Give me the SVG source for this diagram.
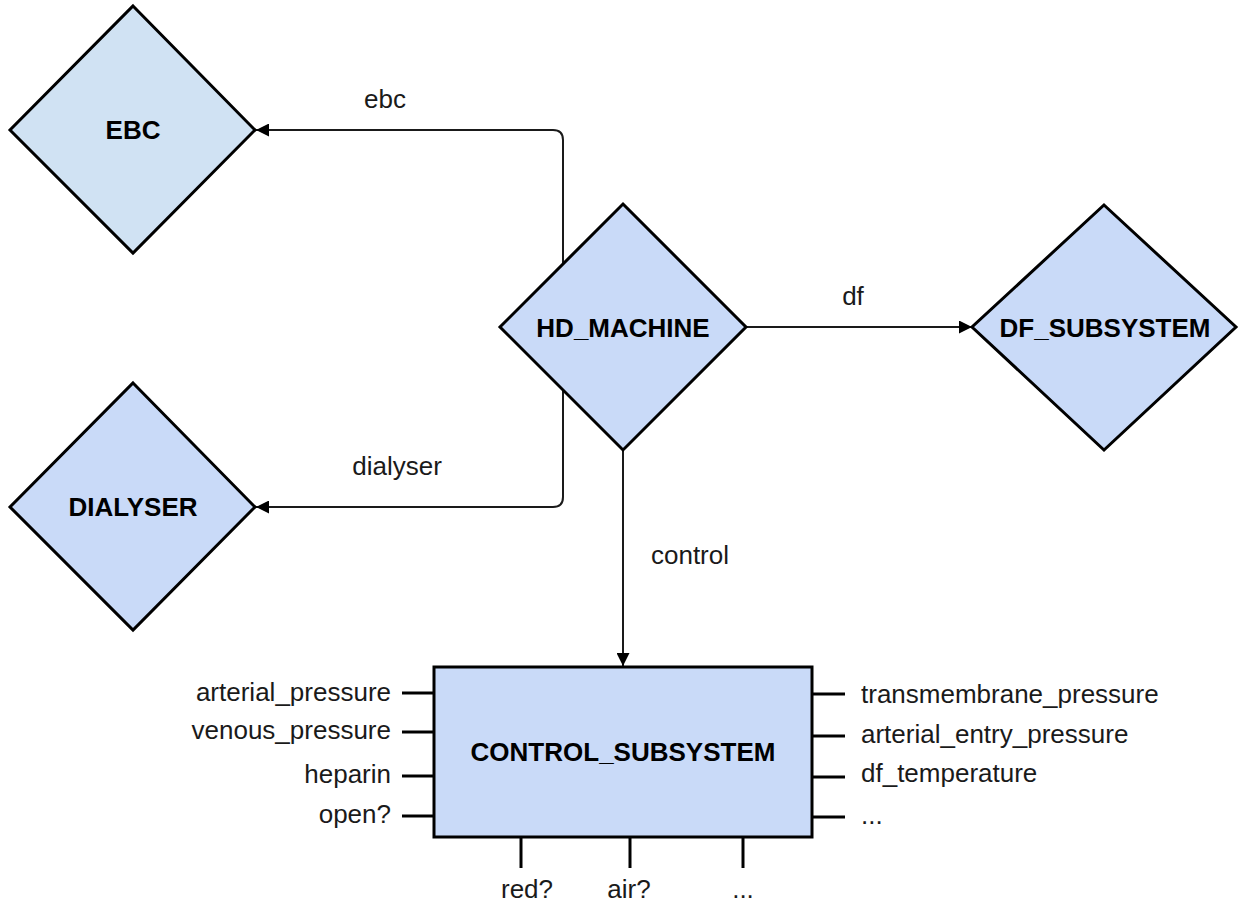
<svg xmlns="http://www.w3.org/2000/svg" width="1246" height="906" viewBox="0 0 1246 906">
  <style>
    .shape { stroke: #000; stroke-width: 3; stroke-linejoin: miter; }
    .fill-a { fill: #c9daf8; }
    .fill-b { fill: #d0e2f3; }
    .title { font-family: "Liberation Sans", Arial, sans-serif; font-size: 26px; font-weight: bold; fill: #000; text-anchor: middle; }
    .label { font-family: "Liberation Sans", Arial, sans-serif; font-size: 26px; fill: #1a1a1a; }
    .mid { text-anchor: middle; }
    .end { text-anchor: end; }
    .edge { fill: none; stroke: #1a1a1a; stroke-width: 2; }
    .port { stroke: #000; stroke-width: 3; }
  </style>
  <defs>
    <marker id="arrow" markerUnits="userSpaceOnUse" markerWidth="13" markerHeight="13" refX="13" refY="6.5" orient="auto">
      <path d="M0,0 L13,6.5 L0,13 Z" fill="#000"/>
    </marker>
  </defs>

  <rect width="1246" height="906" fill="#fff"/>

  <!-- connectors -->
  <g id="connectors">
    <path class="edge" d="M563,264 L563,140 Q563,130 553,130 L256,130" marker-end="url(#arrow)"/>
    <path class="edge" d="M563,390 L563,497 Q563,507 553,507 L256,507" marker-end="url(#arrow)"/>
    <path class="edge" d="M746,327 L972,327" marker-end="url(#arrow)"/>
    <path class="edge" d="M623,450 L623,666" marker-end="url(#arrow)"/>
    <text class="label mid" x="385" y="108">ebc</text>
    <text class="label mid" x="853" y="305">df</text>
    <text class="label mid" x="397" y="475">dialyser</text>
    <text class="label mid" x="690" y="564">control</text>
  </g>

  <g id="ebc">
    <polygon class="shape fill-b" points="133,6 255,130 133,253 10,130"/>
    <text class="title" x="133" y="139">EBC</text>
  </g>

  <g id="dialyser">
    <polygon class="shape fill-a" points="133,383 255,507 133,630 10,507"/>
    <text class="title" x="133" y="516">DIALYSER</text>
  </g>

  <g id="hd-machine">
    <polygon class="shape fill-a" points="623,204 746,327 623,450 500,327"/>
    <text class="title" x="623" y="337">HD_MACHINE</text>
  </g>

  <g id="df-subsystem">
    <polygon class="shape fill-a" points="1104,205 1236,327 1104,450 972,327"/>
    <text class="title" x="1105" y="337">DF_SUBSYSTEM</text>
  </g>

  <g id="control-subsystem">
    <rect class="shape fill-a" x="434" y="667" width="378" height="170"/>
    <text class="title" x="623" y="761">CONTROL_SUBSYSTEM</text>

    <!-- inputs -->
    <line class="port" x1="402" y1="693" x2="434" y2="693"/>
    <line class="port" x1="402" y1="732" x2="434" y2="732"/>
    <line class="port" x1="402" y1="776" x2="434" y2="776"/>
    <line class="port" x1="402" y1="816" x2="434" y2="816"/>
    <text class="label end" x="391" y="701">arterial_pressure</text>
    <text class="label end" x="391" y="739">venous_pressure</text>
    <text class="label end" x="391" y="783">heparin</text>
    <text class="label end" x="391" y="823">open?</text>

    <!-- outputs -->
    <line class="port" x1="812" y1="694" x2="845" y2="694"/>
    <line class="port" x1="812" y1="736" x2="845" y2="736"/>
    <line class="port" x1="812" y1="777" x2="845" y2="777"/>
    <line class="port" x1="812" y1="817" x2="845" y2="817"/>
    <text class="label" x="861" y="703">transmembrane_pressure</text>
    <text class="label" x="861" y="743">arterial_entry_pressure</text>
    <text class="label" x="861" y="782">df_temperature</text>
    <text class="label" x="861" y="824">...</text>

    <!-- sensors -->
    <line class="port" x1="521" y1="837" x2="521" y2="868"/>
    <line class="port" x1="630" y1="837" x2="630" y2="868"/>
    <line class="port" x1="743" y1="837" x2="743" y2="868"/>
    <text class="label mid" x="527" y="898">red?</text>
    <text class="label mid" x="629" y="898">air?</text>
    <text class="label mid" x="743" y="898">...</text>
  </g>
</svg>
